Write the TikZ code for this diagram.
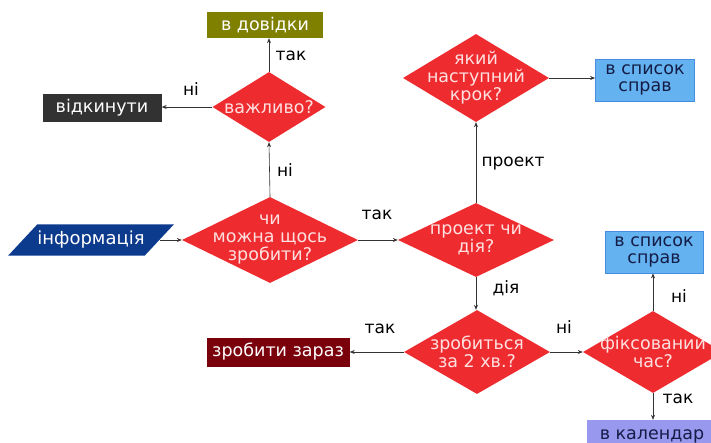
\documentclass[tikz,border=0pt]{standalone}
\usepackage{fontspec}
\setmainfont{DejaVu Sans}
\usetikzlibrary{shapes.geometric,arrows.meta}
\definecolor{qred}{RGB}{238,44,48}
\definecolor{qolive}{RGB}{128,128,0}
\definecolor{qgray}{RGB}{50,50,50}
\definecolor{qnavy}{RGB}{12,58,140}
\definecolor{qblue}{RGB}{100,178,240}
\definecolor{qblueline}{RGB}{70,140,225}
\definecolor{qmaroon}{RGB}{122,0,12}
\definecolor{qlilac}{RGB}{152,152,238}
\definecolor{qtext}{RGB}{20,28,70}
\tikzset{
  figfont/.style={font=\fontsize{17}{19}\selectfont},
  figbox/.style={rectangle, inner sep=0pt, align=center, text=white, font=\fontsize{17.5}{17}\selectfont},
  figboxlight/.style={figbox, draw=qblueline, line width=0.8pt, fill=qblue, text=qtext},
  figdiamond/.style={diamond, fill=qred, text=white!88!red, inner sep=-50pt, align=center, font=\fontsize{17.5}{18}\selectfont},
  figarrow/.style={-{Stealth[length=5pt,width=4pt]}, line width=0.6pt, draw=black!80},
}
\begin{document}
\begin{tikzpicture}[x=1pt, y=-1pt, figfont]
  \useasboundingbox (0,0) rectangle (711,442);

  % decision diamonds
  \node[figdiamond, minimum width=113pt, minimum height=70pt] (vazhlyvo) at (269,107) {важливо?};
  \node[figdiamond, minimum width=176pt, minimum height=86pt] (mozhna) at (270,240) {чи\\можна щось\\зробити?};
  \node[figdiamond, minimum width=156pt, minimum height=74pt] (proekt) at (476,240) {проект чи\\дія?};
  \node[figdiamond, minimum width=146pt, minimum height=88pt] (krok) at (476,78) {який\\наступний\\крок?};
  \node[figdiamond, minimum width=146pt, minimum height=84pt] (dvakhv) at (477,352) {зробиться\\за 2 хв.?};
  \node[figdiamond, minimum width=140pt, minimum height=82pt] (fiks) at (653,352) {фіксований\\час?};

  % boxes
  \node[trapezium, trapezium left angle=47, trapezium right angle=133, fill=qnavy, text=white,
        font=\fontsize{18}{18}\selectfont, inner xsep=0pt, inner ysep=7pt] (info) at (91,240) {інформація};
  \node[figbox, fill=qolive, minimum width=116pt, minimum height=26pt] (dovidky) at (265,25) {в довідки};
  \node[figbox, fill=qgray, minimum width=119pt, minimum height=28pt] (vidkynuty) at (102,108) {відкинути};
  \node[figboxlight, minimum width=99pt, minimum height=42pt] (spysoka) at (645,80) {в список\\справ};
  \node[figboxlight, minimum width=98pt, minimum height=42pt] (spysokb) at (654,252) {в список\\справ};
  \node[figbox, fill=qmaroon, minimum width=143pt, minimum height=29pt] (zaraz) at (278,352) {зробити зараз};
  \node[figbox, fill=qlilac, text=qtext, minimum width=130pt, minimum height=32pt] (kalendar) at (652,436) {в календар};

  % connectors
  \draw[figarrow] (info.east) -- (info.east -| mozhna.west);
  \draw[figarrow] (mozhna.north) -- (vazhlyvo.south);
  \draw[figarrow] (vazhlyvo.north) -- (vazhlyvo.north |- dovidky.south);
  \draw[figarrow] (vazhlyvo.west) -- (vazhlyvo.west -| vidkynuty.east);
  \draw[figarrow] (mozhna.east) -- (proekt.west);
  \draw[figarrow] (proekt.north) -- (krok.south);
  \draw[figarrow] (krok.east) -- (krok.east -| spysoka.west);
  \draw[figarrow] (proekt.south) -- (proekt.south |- dvakhv.north);
  \draw[figarrow] (dvakhv.west) -- (dvakhv.west -| zaraz.east);
  \draw[figarrow] (dvakhv.east) -- (fiks.west);
  \draw[figarrow] (fiks.north) -- (fiks.north |- spysokb.south);
  \draw[figarrow] (fiks.south) -- (fiks.south |- kalendar.north);

  % branch labels
  \node (ltakdov) at (291,56) {так};
  \node (lnivid) at (191,89) {ні};
  \node (lnivazh) at (285,170) {ні};
  \node (ltakpr) at (377,215) {так};
  \node (lproekt) at (513,164) {проект};
  \node (ldiya) at (506,288) {дія};
  \node (ltakzar) at (380,329) {так};
  \node (lnifiks) at (564,327) {ні};
  \node (lnisp) at (679,296) {ні};
  \node (ltakkal) at (678,399) {так};
\end{tikzpicture}
\end{document}
